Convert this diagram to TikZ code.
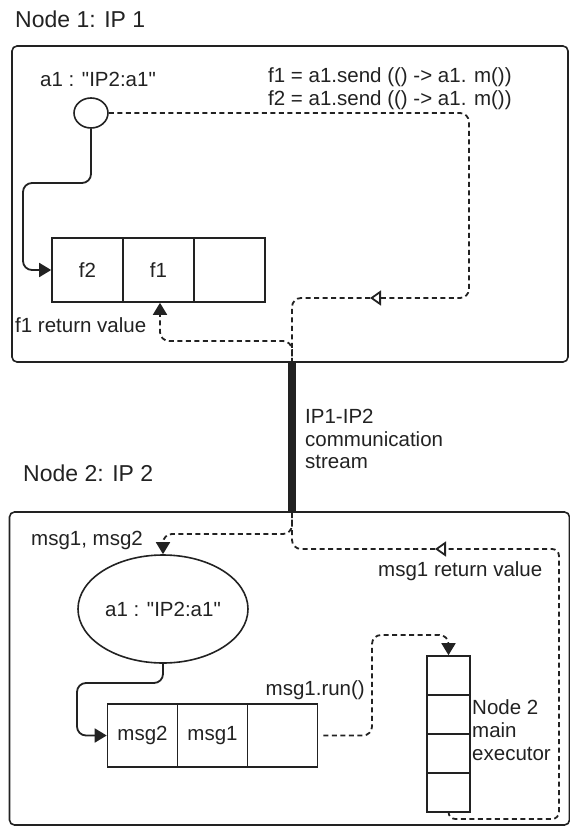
\documentclass[tikz,border=0pt]{standalone}
\usepackage{fontspec}
\setmainfont{Liberation Sans}[Ligatures=TeXOff]
\usetikzlibrary{arrows.meta,shapes.geometric}
\definecolor{ink}{HTML}{222222}
\begin{document}
\begin{tikzpicture}[x=1pt,y=-1pt,
  every node/.style={font=\fontsize{20.5}{24}\selectfont, text=ink},
  titletext/.style={anchor=base west, inner sep=0pt, font=\fontsize{23}{27}\selectfont},
  txt/.style={anchor=base west, inner sep=0pt},
  frame/.style={draw=ink, line width=1.6pt, rounded corners=5pt, inner sep=0pt},
  cell/.style={draw=ink, line width=1.6pt, inner sep=0pt},
  objshape/.style={draw=ink, line width=1.6pt, ellipse, inner sep=0pt},
  solidlink/.style={draw=ink, line width=1.8pt, rounded corners=9pt, -{Triangle[length=12pt,width=14pt]}},
  dashlink/.style={draw=ink, line width=1.8pt, dash pattern=on 5pt off 3.5pt, rounded corners=9pt},
  opentip/.style={-{Triangle[open,length=11pt,width=15pt]}},
  filltip/.style={-{Triangle[length=12pt,width=14pt]}},
  streamline/.style={draw=ink, line width=7.5pt}
]
\path[use as bounding box] (0,0) rectangle (570,827);

% ---------- Node 1 ----------
\node[titletext] (title1) at (15,27.5) {Node 1: IP 1};
\node[frame, minimum width=556pt, minimum height=316pt] (box1) at (290,204) {};
\node[txt] (reflabel) at (40,86.5) {a1 : "IP2:a1"};
\node[objshape, minimum width=34pt, minimum height=30pt] (c1) at (91,113) {};
\node[txt] (send1) at (268,82) {f1 = a1.send (() -> a1. m())};
\node[txt] (send2) at (268,105) {f2 = a1.send (() -> a1. m())};

\node[cell, minimum width=71pt, minimum height=64pt] (ta) at (87.5,270) {f2};
\node[cell, minimum width=71pt, minimum height=64pt] (tb) at (158.5,270) {f1};
\node[cell, minimum width=71pt, minimum height=64pt] (tc) at (229.5,270) {};
\node[txt] (ret1) at (15,332) {f1 return value};

% ---------- stream between the nodes ----------
\coordinate (sx) at (292,0);
\node[frame, minimum width=560pt, minimum height=313pt] (box2) at (289.5,668.5) {};
\draw[streamline] (box1.south -| sx) -- (box2.north -| sx);
\node[txt] (st1) at (305,423) {IP1-IP2};
\node[txt] (st2) at (305,446) {communication};
\node[txt] (st3) at (305,468) {stream};

% ---------- Node 2 ----------
\node[titletext] (title2) at (23,481) {Node 2: IP 2};
\node[txt] (msgs) at (31,545) {msg1, msg2};
\node[objshape, minimum width=170pt, minimum height=108pt] (e2) at (163,609) {a1 : "IP2:a1"};
\node[txt] (ret2) at (378,576) {msg1 return value};

\node[cell, minimum width=70pt, minimum height=63pt] (ba) at (142.5,735.5) {msg2};
\node[cell, minimum width=70pt, minimum height=63pt] (bb) at (212.5,735.5) {msg1};
\node[cell, minimum width=70pt, minimum height=63pt] (bc) at (282.5,735.5) {};
\node[anchor=base east, inner sep=0pt] (runlbl) at (365,695) {msg1.run()};

\node[cell, minimum width=43pt, minimum height=39pt] (ex1) at (448.5,675.5) {};
\node[cell, minimum width=43pt, minimum height=39pt] (ex2) at (448.5,714.5) {};
\node[cell, minimum width=43pt, minimum height=39pt] (ex3) at (448.5,753.5) {};
\node[cell, minimum width=43pt, minimum height=39pt] (ex4) at (448.5,792.5) {};
\node[txt] (exl1) at (472,714) {Node 2};
\node[txt] (exl2) at (472,737) {main};
\node[txt] (exl3) at (472,760) {executor};

% ---------- connectors, Node 1 ----------
\coordinate (t1) at (23,183);
\draw[solidlink] (c1.south) |- (t1) |- (ta.west);
\coordinate (sR) at (469,298);
\coordinate (tri1) at (370,298);
\draw[dashlink, opentip] (c1.east) -| (sR) -- (tri1);
\draw[dashlink] (tri1) -| (box1.south -| sx);
\coordinate (rt1) at (160,341);
\draw[dashlink, filltip] (box1.south -| sx) |- (rt1) -- (tb.south -| rt1);

% ---------- connectors, Node 2 ----------
\coordinate (mq) at (163,534);
\draw[dashlink, filltip] (box2.north -| sx) |- (mq) -- (e2.north);
\coordinate (t2) at (77,683);
\draw[solidlink] (e2.south) |- (t2) |- (ba.west);
\coordinate (rn1) at (372,635);
\draw[dashlink, filltip, shorten <=5pt] (bc.east) -| (rn1) -| (ex1.north);
\coordinate (rr1) at (559,819);
\coordinate (tri2) at (435,549);
\draw[dashlink, opentip, rounded corners=7pt] (ex4.south) |- (rr1) |- (tri2);
\draw[dashlink] (tri2) -| (box2.north -| sx);
\end{tikzpicture}
\end{document}
